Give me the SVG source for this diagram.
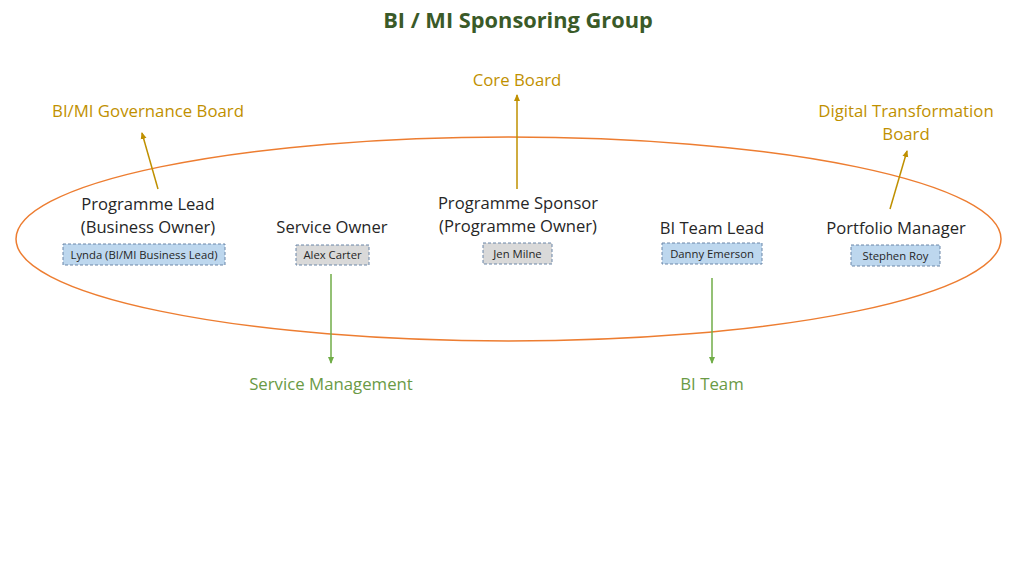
<svg xmlns="http://www.w3.org/2000/svg" width="1024" height="576" viewBox="0 0 1024 576">
<style>
text{font-family:"Open Sans","Liberation Sans",sans-serif}
.title{font-size:21.8px;font-weight:bold;fill:#3A5A28}
.gold{font-size:16.8px;fill:#BF9000}
.role{font-size:16.6px;fill:#262626}
.green{font-size:16.8px;fill:#6A9A45}
.name{font-size:11.3px;fill:#262626}
.blue{fill:#BDD7EE;stroke:#6A86A8;stroke-width:1;stroke-dasharray:3,2}
.grey{fill:#D9D9D9;stroke:#6A86A8;stroke-width:1;stroke-dasharray:3,2}
.ga{stroke:#BF9000;stroke-width:1.5;fill:none}
.gr{stroke:#70AD47;stroke-width:1.5;fill:none}
</style>
<defs>
<marker id="ah" markerWidth="8" markerHeight="8" refX="6" refY="4" orient="auto" markerUnits="userSpaceOnUse"><path d="M0,1 L7,4 L0,7 Z" fill="#BF9000"/></marker>
<marker id="ahg" markerWidth="8" markerHeight="8" refX="6" refY="4" orient="auto" markerUnits="userSpaceOnUse"><path d="M0,1 L7,4 L0,7 Z" fill="#70AD47"/></marker>
</defs>
<rect width="1024" height="576" fill="#fff"/>
<text class="title" x="518" y="28" text-anchor="middle">BI / MI Sponsoring Group</text>
<ellipse cx="508.5" cy="239" rx="492.5" ry="102" fill="none" stroke="#ED7D31" stroke-width="1.5"/>
<g id="connectors">
<line class="ga" x1="158" y1="189" x2="142" y2="133" marker-end="url(#ah)"/>
<line class="ga" x1="517" y1="189" x2="517" y2="95" marker-end="url(#ah)"/>
<line class="ga" x1="890" y1="209" x2="907" y2="151" marker-end="url(#ah)"/>
<line class="gr" x1="331" y1="274" x2="331" y2="363" marker-end="url(#ahg)"/>
<line class="gr" x1="712" y1="278" x2="712" y2="363" marker-end="url(#ahg)"/>
</g>
<g id="core-board"><text class="gold" x="517" y="86" text-anchor="middle">Core Board</text></g>
<g id="governance-board"><text class="gold" x="148" y="117" text-anchor="middle">BI/MI Governance Board</text></g>
<g id="digital-board"><text class="gold" x="906" y="117" text-anchor="middle">Digital Transformation</text><text class="gold" x="906" y="140" text-anchor="middle">Board</text></g>
<g id="programme-lead">
<text class="role" x="148" y="210" text-anchor="middle">Programme Lead</text>
<text class="role" x="148" y="233" text-anchor="middle">(Business Owner)</text>
<rect class="blue" x="63" y="244" width="162" height="21"/>
<text class="name" x="144" y="258.5" text-anchor="middle">Lynda (BI/MI Business Lead)</text>
</g>
<g id="service-owner">
<text class="role" x="332" y="233" text-anchor="middle">Service Owner</text>
<rect class="grey" x="296" y="245" width="73" height="20"/>
<text class="name" x="332.5" y="259" text-anchor="middle">Alex Carter</text>
</g>
<g id="programme-sponsor">
<text class="role" x="518" y="209" text-anchor="middle">Programme Sponsor</text>
<text class="role" x="518" y="232" text-anchor="middle">(Programme Owner)</text>
<rect class="grey" x="483" y="243" width="69" height="21"/>
<text class="name" x="517.5" y="257.5" text-anchor="middle">Jen Milne</text>
</g>
<g id="bi-team-lead">
<text class="role" x="712" y="234" text-anchor="middle">BI Team Lead</text>
<rect class="blue" x="662" y="243" width="100" height="21"/>
<text class="name" x="712" y="257.5" text-anchor="middle">Danny Emerson</text>
</g>
<g id="portfolio-manager">
<text class="role" x="896" y="234" text-anchor="middle">Portfolio Manager</text>
<rect class="blue" x="851" y="245" width="89" height="21"/>
<text class="name" x="895.5" y="259.5" text-anchor="middle">Stephen Roy</text>
</g>
<g id="service-management"><text class="green" x="331" y="390" text-anchor="middle">Service Management</text></g>
<g id="bi-team"><text class="green" x="712" y="390" text-anchor="middle">BI Team</text></g>
</svg>
